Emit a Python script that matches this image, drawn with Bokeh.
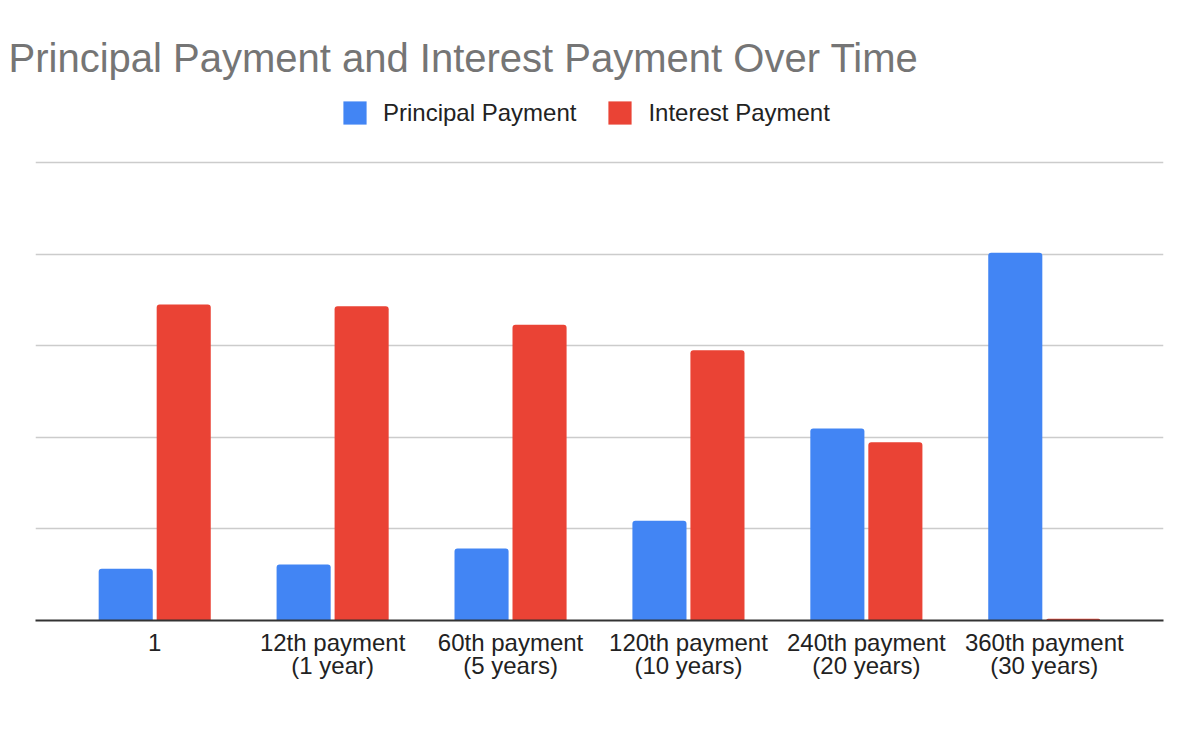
from bokeh.plotting import figure
from bokeh.models import (ColumnDataSource, FactorRange, Range1d, FixedTicker,
                          Legend, LegendItem)
from bokeh.transform import dodge
from bokeh.embed import file_html
from bokeh.resources import INLINE

# ---- data ----
categories = ["1", "12th payment\n(1 year)", "60th payment\n(5 years)",
              "120th payment\n(10 years)", "240th payment\n(20 years)",
              "360th payment\n(30 years)"]
principal = [113, 122, 157, 218, 419, 803]
interest = [690, 686, 646, 590, 389, 4]
grid_values = [0, 200, 400, 600, 800, 1000]
series_names = ["Principal Payment", "Interest Payment"]
title_text = "Principal Payment and Interest Payment Over Time"

BLUE = "#4285F4"
RED = "#EA4335"
FONT = "Liberation Sans"

src = ColumnDataSource(data=dict(cat=categories, principal=principal, interest=interest))

W, H = 1200, 742
frame_left, frame_right = 35, 1163
frame_top, frame_bottom = 90, 620
px_per_step = 91.6
y_end = 200 * (frame_bottom - frame_top) / px_per_step

p = figure(width=W, height=H, output_backend="svg", toolbar_location=None,
           x_range=FactorRange(factors=categories, range_padding=0.0567),
           y_range=Range1d(0, y_end), y_axis_location=None,
           min_border_left=frame_left, min_border_right=W - frame_right,
           min_border_top=frame_top, min_border_bottom=H - frame_bottom)
p.outline_line_color = None
p.background_fill_color = "white"
p.border_fill_color = "white"

r1 = p.vbar(x=dodge("cat", -0.163, range=p.x_range), top="principal", width=0.304,
            source=src, fill_color=BLUE, line_color=None, border_radius=(3, 3, 0, 0))
r2 = p.vbar(x=dodge("cat", 0.163, range=p.x_range), top="interest", width=0.304,
            source=src, fill_color=RED, line_color=None, border_radius=(3, 3, 0, 0))

# grid
p.xgrid.visible = False
p.ygrid.ticker = FixedTicker(ticks=grid_values[1:])
p.ygrid.grid_line_color = "#cccccc"
p.ygrid.grid_line_width = 1.5

# x axis
ax = p.xaxis[0]
ax.axis_line_color = "#333333"
ax.axis_line_width = 2
ax.major_tick_line_color = None
ax.minor_tick_line_color = None
ax.major_tick_out = 0
ax.major_tick_in = 0
ax.major_label_standoff = 8
ax.major_label_text_font = FONT
ax.major_label_text_font_size = "24px"
ax.major_label_text_color = "#222222"
ax.major_label_text_line_height = 0.86

# title
p.title.text = title_text
p.title.align = "left"
p.title.offset = -27
p.title.standoff = 21
p.title.text_font = FONT
p.title.text_font_size = "40px"
p.title.text_font_style = "normal"
p.title.text_color = "#757575"

# legend
legend = Legend(items=[LegendItem(label=series_names[0], renderers=[r1]),
                       LegendItem(label=series_names[1], renderers=[r2])],
                location=(305, 493), orientation="horizontal",
                glyph_width=29, glyph_height=29, label_standoff=14, spacing=29,
                padding=0, margin=0, border_line_color=None, background_fill_alpha=0,
                label_text_font=FONT, label_text_font_size="24px",
                label_text_color="#222222", label_height=29)
p.add_layout(legend, "center")

open("out.html", "w").write(file_html(p, INLINE))
